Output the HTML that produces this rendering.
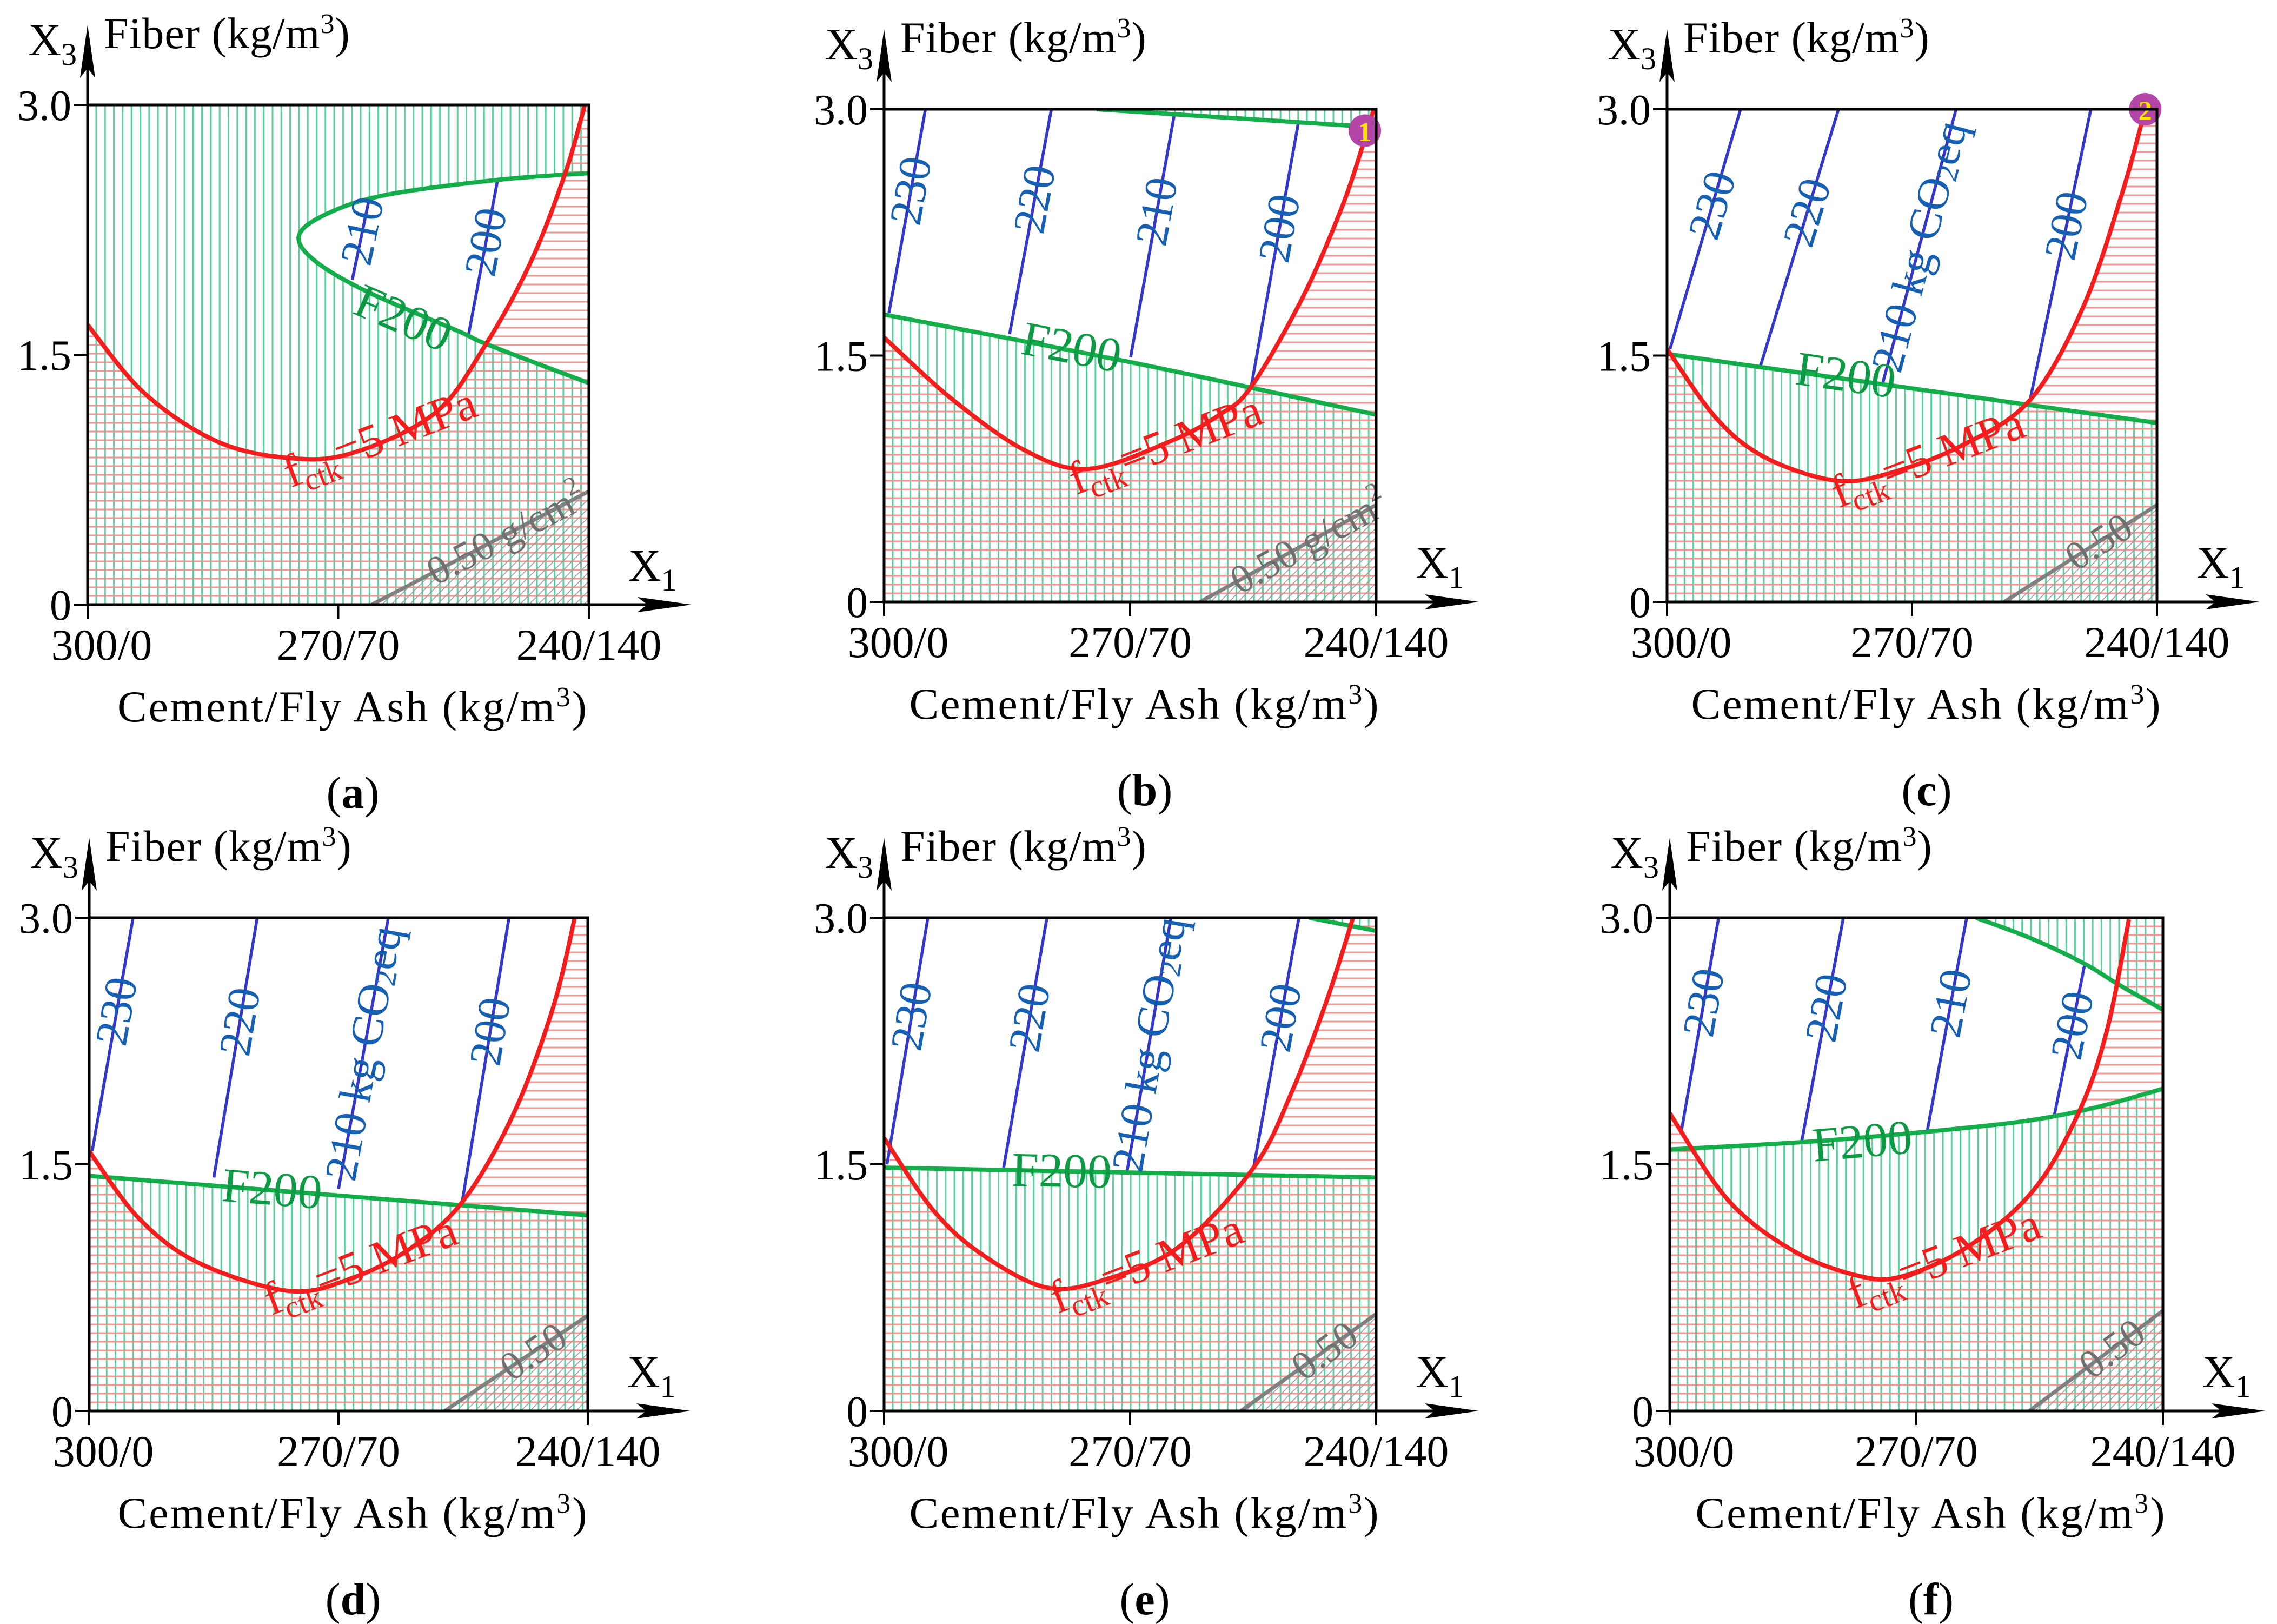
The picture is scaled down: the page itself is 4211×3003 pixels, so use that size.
<!DOCTYPE html>
<html><head><meta charset="utf-8"><title>Contour panels</title>
<style>html,body{margin:0;padding:0;background:#fff}svg{display:block}</style></head>
<body>
<svg id="chart" xmlns="http://www.w3.org/2000/svg" width="4211" height="3003" viewBox="0 0 4211 3003" font-family="'Liberation Serif', serif"><defs id="defs"></defs></svg>
<script>
// ---------- data (x: 0 = 300/0, 1 = 240/140 ; y: fiber kg/m3) ----------
const panelIds = ['a','b','c','d','e','f'];
const xTickLabels = ['300/0','270/70','240/140'];
const yTickValues = [0,1.5,3.0];
const yTickLabels = ['0','1.5','3.0'];

const redA = [[0,1.68],[.113,1.27],[.258,.98],[.403,.88],[.528,.91],[.693,1.15],[.794,1.56],[.886,2.07],[.954,2.60],[.992,3.0]];
const greenLoopA = [[1,2.59],[.818,2.55],[.596,2.46],[.48,2.35],[.422,2.22],[.451,2.07],[.557,1.88],[.741,1.64],[.799,1.56],[1,1.33]];
const blueValsA = ['210','200'];
const blueStartA = [[.528,1.95],[.76,1.62]];
const blueEndA = [[.562,2.44],[.818,2.55]];
const grayA = [[.567,0],[1,.68]];

const redB = [[0,1.61],[.14,1.23],[.288,.92],[.416,.81],[.583,.98],[.682,1.14],[.746,1.31],[.85,1.85],[.93,2.4],[.977,2.82],[.995,3.0]];
const greenLowB = [[0,1.75],[.5,1.46],[1,1.14]];
const greenUpB = [[.432,3.0],[1,2.89]];
const blueValsB = ['230','220','210','200'];
const blueStartB = [[.010,1.76],[.255,1.63],[.501,1.49],[.746,1.31]];
const blueEndB = [[.084,3],[.34,3],[.59,2.97],[.842,2.92]];
const grayB = [[.642,0],[1,.59]];

const redC = [[0,1.54],[.1,1.12],[.2,.88],[.341,.74],[.45,.78],[.6,.95],[.741,1.23],[.85,1.8],[.93,2.5],[.976,3.0]];
const greenLowC = [[0,1.51],[1,1.09]];
const blueValsC = ['230','220','210 kg CO2eq','200'];
const blueStartC = [[.006,1.54],[.19,1.43],[.44,1.33],[.741,1.23]];
const blueEndC = [[.15,3],[.35,3],[.59,3],[.865,3]];
const grayC = [[.688,0],[1,.59]];

const redD = [[0,1.58],[.1,1.17],[.22,.9],[.4,.73],[.52,.8],[.64,.98],[.748,1.27],[.85,1.8],[.93,2.45],[.974,3.0]];
const greenLowD = [[0,1.43],[1,1.19]];
const blueValsD = ['230','220','210 kg CO2eq','200'];
const blueStartD = [[.006,1.58],[.25,1.42],[.5,1.35],[.748,1.27]];
const blueEndD = [[.088,3],[.337,3],[.6,3],[.842,3]];
const grayD = [[.713,0],[1,.58]];

const redE = [[0,1.66],[.1,1.22],[.2,.95],[.331,.75],[.45,.8],[.6,1.0],[.751,1.48],[.83,1.95],[.9,2.5],[.953,3.0]];
const greenLowE = [[0,1.48],[1,1.42]];
const greenUpE = [[.864,3],[1,2.92]];
const blueValsE = ['230','220','210 kg CO2eq','200'];
const blueStartE = [[.006,1.5],[.243,1.48],[.494,1.46],[.751,1.48]];
const blueEndE = [[.089,3],[.331,3],[.583,3],[.843,3]];
const grayE = [[.725,0],[1,.59]];

const redF = [[0,1.81],[.119,1.28],[.253,.97],[.385,.82],[.473,.82],[.605,1.0],[.737,1.34],[.83,1.82],[.887,2.32],[.931,2.99]];
const greenLowF = [[0,1.59],[.295,1.64],[.561,1.71],[.736,1.77],[.869,1.85],[1,1.96]];
const greenUpF = [[.621,3.0],[.736,2.87],[.841,2.72],[.912,2.59],[1,2.44]];
const blueValsF = ['230','220','210','200'];
const blueStartF = [[.024,1.71],[.267,1.63],[.522,1.70],[.78,1.80]];
const blueEndF = [[.099,3],[.352,3],[.602,3],[.841,2.71]];
const grayF = [[.729,0],[1,.61]];

const f200PosA=[.63,1.72], f200PosB=[.381,1.55], f200PosC=[.365,1.38], f200PosD=[.367,1.35], f200PosE=[.361,1.46], f200PosF=[.39,1.64];
const fctkPosA=[.405,.70], fctkPosB=[.39,.65], fctkPosC=[.35,.57], fctkPosD=[.365,.58], fctkPosE=[.352,.59], fctkPosF=[.375,.62];
const grayLabels = ['0.50 g/cm2','0.50 g/cm2','0.50','0.50','0.50','0.50'];
const markerLabels = [null,'1','2',null,null,null];
const markerPos = [null,[.977,2.87],[.976,3.0],null,null,null];

// ---------- layout ----------
const boxes = {a:[162,194,1089,1118], b:[1635,202,2545,1113], c:[3083,202,3989,1113],
               d:[165,1697,1087,2609], e:[1635,1697,2545,2609], f:[3088,1697,4000,2609]};
const NS='http://www.w3.org/2000/svg';
const svg=document.getElementById('chart');
const defs=document.getElementById('defs');
function mk(tag, attrs, parent){const e=document.createElementNS(NS,tag);for(const k in attrs)e.setAttribute(k,attrs[k]);(parent||svg).appendChild(e);return e;}

function spline(pts){
  if(pts.length<3) return 'M'+pts.map(p=>p[0].toFixed(1)+','+p[1].toFixed(1)).join(' L');
  let d='M'+pts[0][0].toFixed(1)+','+pts[0][1].toFixed(1);
  for(let i=0;i<pts.length-1;i++){
    const p0=pts[i-1]||pts[i],p1=pts[i],p2=pts[i+1],p3=pts[i+2]||p2;
    const c1=[p1[0]+(p2[0]-p0[0])/6,p1[1]+(p2[1]-p0[1])/6];
    const c2=[p2[0]-(p3[0]-p1[0])/6,p2[1]-(p3[1]-p1[1])/6];
    d+=` C${c1[0].toFixed(1)},${c1[1].toFixed(1)} ${c2[0].toFixed(1)},${c2[1].toFixed(1)} ${p2[0].toFixed(1)},${p2[1].toFixed(1)}`;
  }
  return d;
}
function angleNear(pts, p){ let best=0,bd=1e9;
  for(let i=0;i<pts.length-1;i++){const mx=(pts[i][0]+pts[i+1][0])/2,my=(pts[i][1]+pts[i+1][1])/2;const dd=(mx-p[0])**2+(my-p[1])**2;
    if(dd<bd){bd=dd;best=Math.atan2(pts[i+1][1]-pts[i][1],pts[i+1][0]-pts[i][0])*180/Math.PI;}}
  if(best>90)best-=180; if(best<-90)best+=180; return best;}

const panelData = {
 a:{red:redA, loop:greenLoopA, bv:blueValsA, bs:blueStartA, be:blueEndA, gray:grayA, f200:f200PosA, fctk:fctkPosA},
 b:{red:redB, low:greenLowB, up:greenUpB, bv:blueValsB, bs:blueStartB, be:blueEndB, gray:grayB, f200:f200PosB, fctk:fctkPosB},
 c:{red:redC, low:greenLowC, bv:blueValsC, bs:blueStartC, be:blueEndC, gray:grayC, f200:f200PosC, fctk:fctkPosC},
 d:{red:redD, low:greenLowD, bv:blueValsD, bs:blueStartD, be:blueEndD, gray:grayD, f200:f200PosD, fctk:fctkPosD},
 e:{red:redE, low:greenLowE, up:greenUpE, bv:blueValsE, bs:blueStartE, be:blueEndE, gray:grayE, f200:f200PosE, fctk:fctkPosE},
 f:{red:redF, low:greenLowF, up:greenUpF, bv:blueValsF, bs:blueStartF, be:blueEndF, gray:grayF, f200:f200PosF, fctk:fctkPosF}
};

panelIds.forEach((id,pi)=>{
  const [L,T,R,B]=boxes[id]; const W=R-L,H=B-T;
  const sx=v=>L+v*W, sy=v=>B-v/3*H, P=p=>[sx(p[0]),sy(p[1])];
  const D=panelData[id];
  const g=mk('g',{});
  
  
  const pg=mk('pattern',{id:'gh'+id,patternUnits:'userSpaceOnUse',x:L+8,y:0,width:16.3,height:20},defs);
  mk('line',{x1:8,y1:0,x2:8,y2:20,stroke:'#3cc88a','stroke-width':3,'stroke-opacity':.85},pg);
  const pr=mk('pattern',{id:'rh'+id,patternUnits:'userSpaceOnUse',x:0,y:B-8,width:20,height:16},defs);
  mk('line',{x1:0,y1:8,x2:20,y2:8,stroke:'#f28a8a','stroke-width':3,'stroke-opacity':.9},pr);
  const pd=mk('pattern',{id:'dh'+id,patternUnits:'userSpaceOnUse',width:12,height:12,patternTransform:'rotate(45)'},defs);
  mk('line',{x1:6,y1:0,x2:6,y2:12,stroke:'#999','stroke-width':1.6},pd);
  const clip=mk('clipPath',{id:'cl'+id},defs);
  mk('rect',{x:L,y:T,width:W,height:H},clip);
  const hz=mk('g',{'clip-path':`url(#cl${id})`},g);
  
  
  let gd='';
  if(D.loop){ const lp=D.loop.map(P);
    gd=`M${L},${T} H${R} V${B} H${L} Z `+spline(lp)+' Z';
  } else {
    const lw=D.low.map(P);
    gd=`M${L},${B} L`+spline(lw).slice(1)+` L${R},${B} Z`;
    if(D.up){const up=D.up.map(P); gd+=' M'+spline(up).slice(1)+` L${R},${T} Z`;}
  }
  const gr=mk('path',{d:gd,fill:`url(#gh${id})`,'fill-rule':'evenodd'},hz);
  
  
  const rp=D.red.map(P);
  const rr=mk('path',{d:`M${L},${B} L`+spline(rp).slice(1)+` L${R},${T} L${R},${B} Z`,fill:`url(#rh${id})`},hz);
  
  
  const gp=D.gray.map(P);
  const dr=mk('path',{d:`M${gp[0][0]},${gp[0][1]} L${gp[1][0]},${gp[1][1]} L${R},${B} Z`,fill:`url(#dh${id})`},hz);
  
  
  const cv=mk('g',{'clip-path':`url(#cl${id})`,fill:'none'},g);
  D.bv.forEach((v,i)=>{
    const s=P(D.bs[i]),e=P(D.be[i]);
    const ln=mk('line',{x1:s[0],y1:s[1],x2:e[0],y2:e[1],stroke:'#3437c8','stroke-width':5.5},cv);
    
    
  });
  if(D.loop){const c=mk('path',{d:spline(D.loop.map(P)),stroke:'#13ad4a','stroke-width':8},cv);
    
    }
  else{const c=mk('path',{d:spline(D.low.map(P)),stroke:'#13ad4a','stroke-width':8},cv);
    
    
    if(D.up){const c2=mk('path',{d:spline(D.up.map(P)),stroke:'#13ad4a','stroke-width':8},cv);
      
      }}
  const rc=mk('path',{d:spline(rp),stroke:'#f41d1d','stroke-width':8},cv);
  
  
  const gc=mk('line',{x1:gp[0][0],y1:gp[0][1],x2:gp[1][0],y2:gp[1][1],stroke:'#808080','stroke-width':7},cv);
  
  
  D.bv.forEach((v,i)=>{
    const s=P(D.bs[i]),e=P(D.be[i]); const t=v.length>4?0.5:0.6;
    const x=s[0]+(e[0]-s[0])*t,y=s[1]+(e[1]-s[1])*t;
    const a=Math.atan2(e[1]-s[1],e[0]-s[0])*180/Math.PI;
    const tx=mk('text',{x:x,y:y,'text-anchor':'middle','dominant-baseline':'central','font-size':84,fill:'#1660b4',transform:`rotate(${a} ${x} ${y})`},g);
    
    
    if(v.indexOf('CO2')>=0){tx.textContent='210 kg CO';
      const sb=mk('tspan',{'font-size':56,dy:16},tx); sb.textContent='2';
      const rs=mk('tspan',{dy:-16},tx); rs.textContent='eq';}
    else tx.textContent=v;
  });
  const fp=P(D.f200); const fa=angleNear(D.loop?D.loop.slice(5).map(P):D.low.map(P),fp);
  const ft=mk('text',{x:fp[0],y:fp[1],'text-anchor':'middle','dominant-baseline':'central','font-size':90,fill:'#0e9a45',transform:`rotate(${fa} ${fp[0]} ${fp[1]})`},g);
  ft.textContent='F200';
  
  
  const kp=P(D.fctk);
  const kt=mk('text',{x:kp[0],y:kp[1],'font-size':86,fill:'#f41d1d',transform:`rotate(-21 ${kp[0]} ${kp[1]})`},g);
  
  
  kt.appendChild(document.createTextNode('f'));
  const ks=mk('tspan',{'font-size':58,dy:18},kt); ks.textContent='ctk';
  const kr=mk('tspan',{dy:-18},kt); kr.textContent='=5 MPa';
  {const a=Math.atan2(gp[1][1]-gp[0][1],gp[1][0]-gp[0][0])*180/Math.PI;
   const x=gp[0][0]+(gp[1][0]-gp[0][0])*0.62,y=gp[0][1]+(gp[1][1]-gp[0][1])*0.62;
   const gt=mk('text',{x:x,y:y,'text-anchor':'middle','dominant-baseline':'central','font-size':74,fill:'#707070',transform:`rotate(${a} ${x} ${y})`},g);
   
   
   const lab=grayLabels[pi];
   if(lab.indexOf('cm2')>=0){gt.textContent='0.50 g/cm';const s2=mk('tspan',{'font-size':48,dy:-24},gt);s2.textContent='2';}
   else gt.textContent=lab;}
  if(markerLabels[pi]){const m=P(markerPos[pi]);
    const mc=mk('circle',{cx:m[0],cy:m[1],r:30,fill:'#b346a6'},g);
    
    
    const mt=mk('text',{x:m[0],y:m[1]+2,'text-anchor':'middle','dominant-baseline':'central','font-size':50,'font-weight':'bold',fill:'#ffe600'},g);
    mt.textContent=markerLabels[pi];
    
    }
  const fr=mk('rect',{x:L,y:T,width:W,height:H,fill:'none',stroke:'#000','stroke-width':5},g);
  
  
  const ya=mk('line',{x1:L,y1:B,x2:L,y2:T-130,stroke:'#000','stroke-width':5},g);
  
  
  const yh=mk('polygon',{points:`${L-14},${T-50} ${L},${T-148} ${L+14},${T-50} ${L},${T-68}`,fill:'#000'},g);
  
  
  const xa=mk('line',{x1:L,y1:B,x2:R+170,y2:B,stroke:'#000','stroke-width':5},g);
  
  
  const xh=mk('polygon',{points:`${R+90},${B-14} ${R+190},${B} ${R+90},${B+14} ${R+108},${B}`,fill:'#000'},g);
  
  
  yTickValues.forEach((v,i)=>{const y=sy(v);
    const tk=mk('line',{x1:L-26,y1:y,x2:L,y2:y,stroke:'#000','stroke-width':4},g);
    
    
    const tl=mk('text',{x:L-30,y:y+28,'text-anchor':'end','font-size':80},g);
    tl.textContent=yTickLabels[i];
    
    });
  xTickLabels.forEach((lab,i)=>{const x=sx(i/2);
    const tk=mk('line',{x1:x,y1:B,x2:x,y2:B+26,stroke:'#000','stroke-width':4},g);
    
    
    const tl=mk('text',{x:i===0?x+26:x,y:B+102,'text-anchor':'middle','font-size':82},g);
    tl.textContent=lab;
    
    });
  const x3=mk('text',{x:L-20,y:T-92,'text-anchor':'end','font-size':84},g);
  
  
  x3.appendChild(document.createTextNode('X'));const x3s=mk('tspan',{'font-size':58,dy:18},x3);x3s.textContent='3';
  const yt=mk('text',{x:L+30,y:T-105,'font-size':82,'letter-spacing':1},g);
  
  
  yt.appendChild(document.createTextNode('Fiber (kg/m'));const ys=mk('tspan',{'font-size':52,dy:-28},yt);ys.textContent='3';const ye=mk('tspan',{dy:28},yt);ye.textContent=')';
  const x1=mk('text',{x:R+73,y:B-44,'font-size':84},g);
  
  
  x1.appendChild(document.createTextNode('X'));const x1s=mk('tspan',{'font-size':58,dy:18},x1);x1s.textContent='1';
  const xt=mk('text',{x:(L+R)/2+27,y:B+216,'text-anchor':'middle','font-size':82,'letter-spacing':3},g);
  
  
  xt.appendChild(document.createTextNode('Cement/Fly Ash (kg/m'));const xs=mk('tspan',{'font-size':52,dy:-28},xt);xs.textContent='3';const xe=mk('tspan',{dy:28},xt);xe.textContent=')';
  const cap=mk('text',{x:(L+R)/2+27,y:B+376,'text-anchor':'middle','font-size':84},g);
  
  
  cap.appendChild(document.createTextNode('('));const cb=mk('tspan',{'font-weight':'bold'},cap);cb.textContent=id;cap.appendChild(document.createTextNode(')'));
});
</script>
</body></html>
